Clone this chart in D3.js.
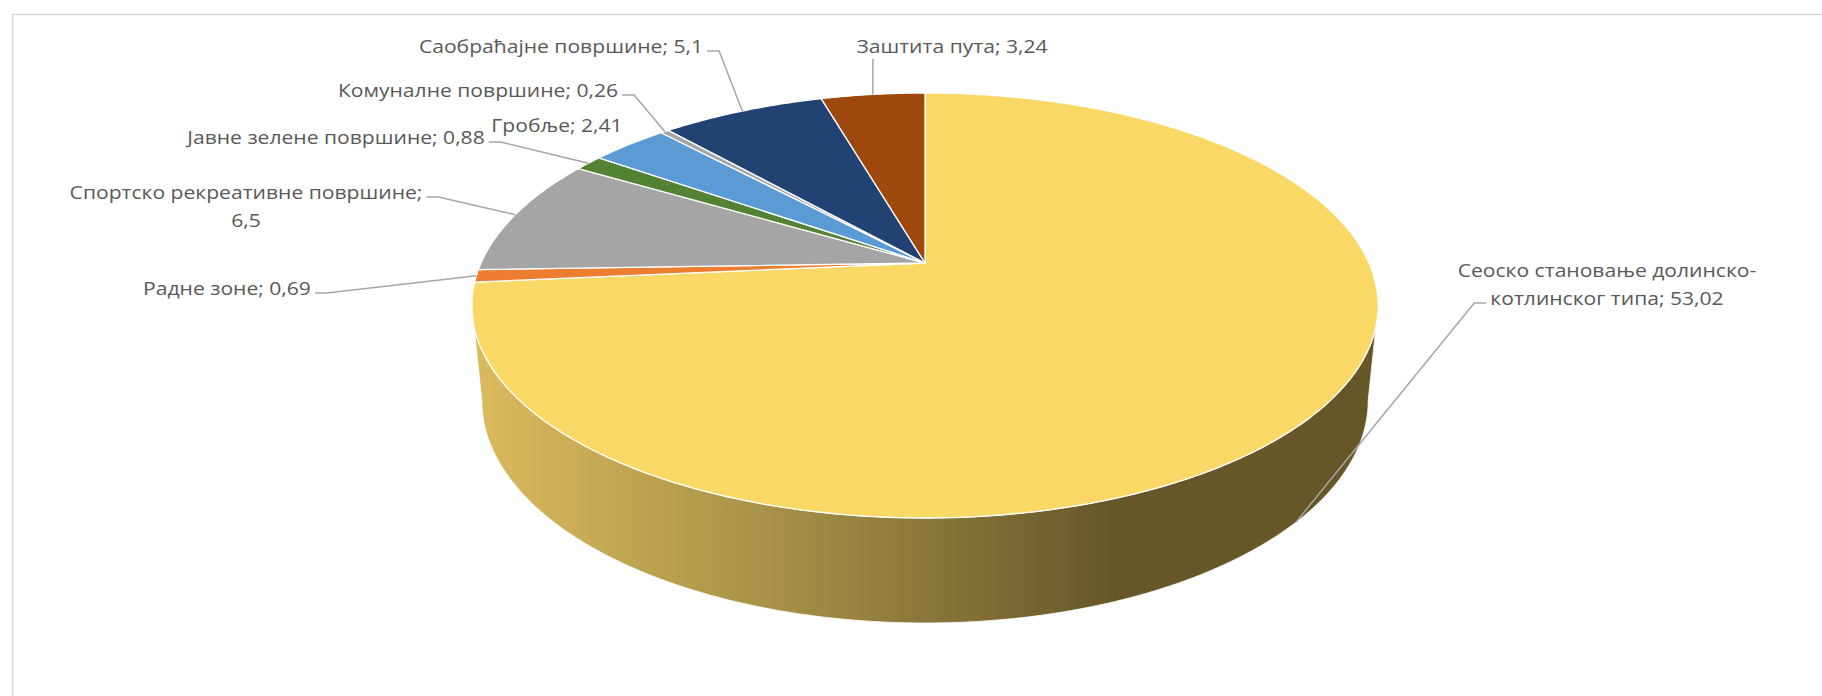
<!DOCTYPE html>
<meta charset="utf-8">
<script src="https://d3js.org/d3.v7.min.js"></script>
<body style="margin:0;background:#fff">
<div id="chart"></div>
<script>

// data
var categories = ["Сеоско становање долинско-котлинског типа", "Радне зоне", "Спортско рекреативне површине",
  "Јавне зелене површине", "Гробље", "Комуналне површине", "Саобраћајне површине", "Заштита пута"];
var values = [53.02, 0.69, 6.5, 0.88, 2.41, 0.26, 5.1, 3.24];
var colors = ["#fad866", "#ed7d31", "#a5a5a5", "#548235", "#5b9bd5", "#a5a5a5", "#234274", "#9e480e"];

// where excel put the labels (block centre, which side the leader leaves from, wrap width)
var labelLayout = [
  {x: 1607, y: 284, side: "left", wrap: 310},
  {x: 227, y: 288, side: "right"},
  {x: 246, y: 206, side: "right", wrap: 360},
  {x: 336, y: 137, side: "right"},
  {x: 557, y: 125, side: "none"},
  {x: 478, y: 90, side: "right"},
  {x: 561, y: 46, side: "right"},
  {x: 952, y: 46, side: "below"}
];

var width = 1822, height = 696;
var fontSize = 19, textScale = 1.11, lineH = 28;

// tilted disc seen in perspective
var geo = {cx: 925, cy: 263, rx: 444, ry: 204, k: 0.2, depthW: 48, depthC: 45, baseShrink: 0.978};
function proj(a, level) {
  var x = Math.sin(a), y = -Math.cos(a), w = 1 - geo.k * y;
  var s = level ? geo.baseShrink : 1;
  return [geo.cx + geo.rx * s * x / w, geo.cy + geo.ry * y / w + level * (geo.depthW / w + geo.depthC)];
}
function arcPoints(a0, a1, level) {
  var n = Math.max(2, Math.ceil(Math.abs(a1 - a0) * 90));
  return d3.range(n + 1).map(function(i) { return proj(a0 + (a1 - a0) * i / n, level); });
}

var fmt = d3.formatLocale({decimal: ",", thousands: ".", grouping: [3], currency: ["", ""]}).format("");

var svg = d3.select("#chart").append("svg")
  .attr("width", width)
  .attr("height", height)
  .style("font-family", "'Open Sans', sans-serif");

// chart frame (runs off the right and bottom edge)
svg.append("rect")
  .attr("x", 12.5).attr("y", 14.5)
  .attr("width", width).attr("height", height)
  .attr("fill", "none")
  .attr("stroke", "#d9d9d9")
  .attr("stroke-width", 1.5);

var pie = d3.pie().sort(null).value(function(i) { return values[i]; });
var arcs = pie(d3.range(values.length));
var line = d3.line();

// silhouette angles of the disc
var scan = d3.range(0, 2 * Math.PI, 0.001);
var aRight = scan[d3.maxIndex(scan, function(a) { return proj(a, 0)[0]; })];
var aLeft = scan[d3.minIndex(scan, function(a) { return proj(a, 0)[0]; })];
var xLeft = proj(aLeft, 0)[0], xRight = proj(aRight, 0)[0];

var defs = svg.append("defs");
var grad = defs.append("linearGradient")
  .attr("id", "wallGrad")
  .attr("gradientUnits", "userSpaceOnUse")
  .attr("x1", xLeft).attr("x2", xLeft + 0.71 * (xRight - xLeft))
  .attr("y1", 0).attr("y2", 0);
grad.append("stop").attr("offset", 0).attr("stop-color", "#dcbb5d");
grad.append("stop").attr("offset", 0.5).attr("stop-color", "#a38e45");
grad.append("stop").attr("offset", 1).attr("stop-color", "#675628");

// front wall
arcs.forEach(function(d) {
  var a0 = Math.max(d.startAngle, aRight), a1 = Math.min(d.endAngle, aLeft);
  if (a0 >= a1) return;
  var pts = arcPoints(a0, a1, 0).concat(arcPoints(a1, a0, 1));
  svg.append("path")
    .attr("d", line(pts) + "Z")
    .attr("fill", d.index == 0 ? "url(#wallGrad)" : colors[d.index])
    .attr("stroke", "#fff")
    .attr("stroke-width", 0.8);
});

// top face
svg.selectAll("path.slice")
  .data(arcs)
  .enter()
  .append("path")
  .attr("class", "slice")
  .attr("d", function(d) {
    return line([[geo.cx, geo.cy]].concat(arcPoints(d.startAngle, d.endAngle, 0))) + "Z";
  })
  .attr("fill", function(d) { return colors[d.index]; })
  .attr("stroke", "#fff")
  .attr("stroke-width", 1.3)
  .attr("stroke-linejoin", "round");

// labels
var gLab = svg.append("g");
var gLead = svg.insert("g", "g");
var measure = svg.append("text").attr("font-size", fontSize);
function textW(s) { measure.text(s); return measure.node().getComputedTextLength() * textScale; }

arcs.forEach(function(d) {
  var i = d.index, L = labelLayout[i];
  var full = categories[i] + "; " + fmt(values[i]);
  var lines = [full];
  if (L.wrap) {
    var tokens = full.split(/(?<=[\s-])/);
    lines = [];
    var cur = "";
    tokens.forEach(function(t) {
      if (cur && textW((cur + t).trim()) > L.wrap) { lines.push(cur.trim()); cur = t; }
      else cur += t;
    });
    lines.push(cur.trim());
  }
  var top = L.y - (lines.length - 1) * lineH / 2;
  var widths = lines.map(textW);
  lines.forEach(function(s, j) {
    gLab.append("text")
      .attr("x", L.x).attr("y", top + j * lineH + fontSize * 0.36)
      .attr("text-anchor", "middle")
      .attr("font-size", fontSize)
      .attr("fill", "#595959")
      .attr("transform", "translate(" + L.x + ",0) scale(" + textScale + ",1) translate(" + (-L.x) + ",0)")
      .text(s);
  });

  var mid = (d.startAngle + d.endAngle) / 2;
  var front = mid > aRight && mid < aLeft;
  var anchor = proj(mid, front ? 1 : 0);
  var pts = null;
  if (L.side == "right") {
    var x0 = L.x + widths[0] / 2 + 4, y0 = top + 5;
    pts = [[x0, y0], [x0 + 12, y0], anchor];
  } else if (L.side == "left") {
    var j = lines.length - 1;
    var x1 = L.x - widths[j] / 2 - 4, y1 = top + j * lineH + 5;
    pts = [[x1, y1], [x1 - 12, y1], anchor];
  } else if (L.side == "below") {
    pts = [[anchor[0], top + lineH / 2 - 1], anchor];
  }
  if (pts) {
    gLead.append("path")
      .attr("d", line(pts))
      .attr("fill", "none")
      .attr("stroke", "#a6a6a6")
      .attr("stroke-width", 1.5);
  }
});
measure.remove();
// leaders above the pie
gLead.raise();
gLab.raise();

</script>
